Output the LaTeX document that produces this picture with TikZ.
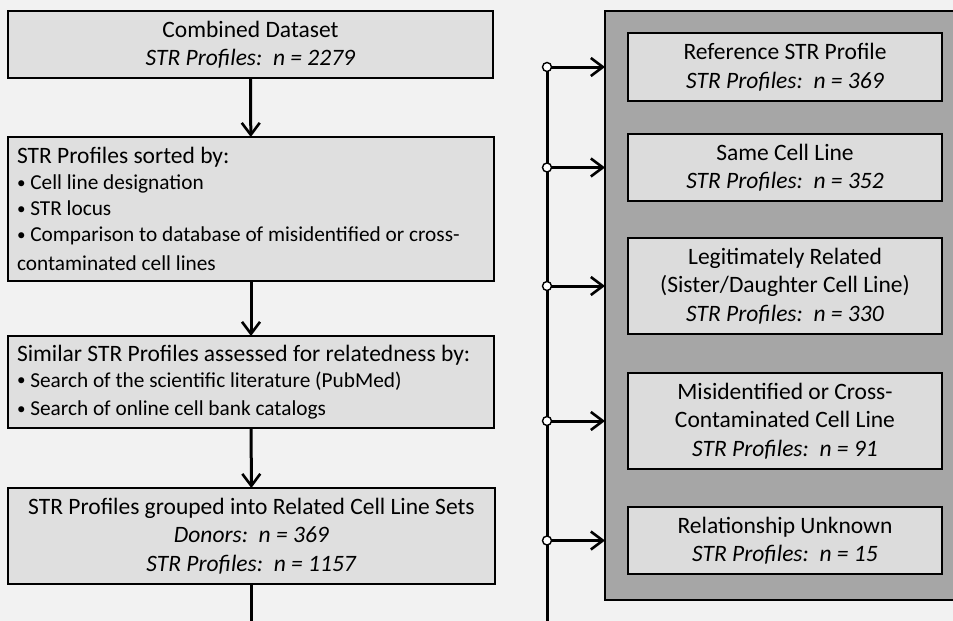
\documentclass[tikz,border=0pt]{standalone}
\usepackage{fontspec}
\setmainfont{Carlito}
\usetikzlibrary{positioning,calc,arrows.meta}
\definecolor{pagegray}{HTML}{F2F2F2}
\definecolor{boxgray}{HTML}{DFDFDF}
\definecolor{panelgray}{HTML}{A6A6A6}
\definecolor{cellgray}{HTML}{DCDCDC}
\newcommand{\listfont}{\fontsize{21.3}{26}\selectfont}
\newcommand{\natspace}{\spaceskip=0pt\relax\xspaceskip=0pt\relax}
\newcommand{\itembullet}{\raisebox{0.15ex}{\scalebox{0.8}{\textbullet}}\ }

\begin{document}
\begin{tikzpicture}[x=1pt,y=-1pt,every node/.style={outer sep=0pt,inner sep=0pt},
		stepbox/.style={draw,line width=1.2pt,fill=boxgray,align=center,
		font=\fontsize{23.5}{28.5}\selectfont},
		listbox/.style={stepbox,align=left,text width=468pt},
		cellbox/.style={stepbox,fill=cellgray,minimum width=314pt},
		panel/.style={draw,line width=1.5pt,fill=panelgray},
		flow/.style={line width=3pt,-{Straight Barb[length=12pt,width=18pt,line width=2.6pt]}},
		busline/.style={line width=3pt},
		junc/.style={circle,draw,line width=1.4pt,fill=white,minimum size=9pt}
		]

		\fill[pagegray] (0,0) rectangle (953,621);
		\useasboundingbox (0,0) rectangle (953,621);
		\clip (0,0) rectangle (953,621);

		% left column
		\node[stepbox,minimum width=485pt,minimum height=67pt] (b1) at (250.5,44.5)
			{Combined Dataset\\ \textit{STR Profiles:\ \ n = 2279}};
		\node[listbox,minimum width=486pt,minimum height=144pt] (b2) at (251,209)
			{\natspace STR Profiles sorted by:\\ \listfont\natspace
			 \itembullet Cell line designation\\
			 \itembullet STR locus\\
			 \itembullet Comparison to database of misidentified or cross-\\
			 contaminated cell lines};
		\node[listbox,minimum width=486pt,minimum height=92pt] (b3) at (251,382)
			{\natspace Similar STR Profiles assessed for relatedness by:\\ \listfont\natspace
			 \itembullet Search of the scientific literature (PubMed)\\
			 \itembullet Search of online cell bank catalogs};
		\node[stepbox,minimum width=487pt,minimum height=96pt] (b4) at (251.5,536)
			{STR Profiles grouped into Related Cell Line Sets\\
			 \textit{Donors:\ \ n = 369}\\
			 \textit{STR Profiles:\ \ n = 1157}};

		\draw[flow] (b1) -- (b2);
		\draw[flow] (b2) -- (b3);
		\draw[flow] (b3) -- (b4);

		% right panel
		\node[panel,minimum width=352pt,minimum height=589pt] (panel) at (781,305.5) {};
		\node[cellbox,minimum height=68pt] (r1) at (785,67)
			{Reference STR Profile\\ \textit{STR Profiles:\ \ n = 369}};
		\node[cellbox,minimum height=67pt] (r2) at (785,167.5)
			{Same Cell Line\\ \textit{STR Profiles:\ \ n = 352}};
		\node[cellbox,minimum height=96pt] (r3) at (785,286)
			{Legitimately Related\\ (Sister/Daughter Cell Line)\\ \textit{STR Profiles:\ \ n = 330}};
		\node[cellbox,minimum height=96pt] (r4) at (785,421)
			{Misidentified or Cross-\\ Contaminated Cell Line\\ \textit{STR Profiles:\ \ n = 91}};
		\node[cellbox,minimum height=67pt] (r5) at (785,540.5)
			{Relationship Unknown\\ \textit{STR Profiles:\ \ n = 15}};

		% bus to the categories
		\coordinate (bus) at (547,0);
		\coordinate (corner) at ($(b4.south)+(0,50)$);
		\draw[busline] (b4.south) -- (corner) -| (bus|-r1);
		\foreach \r in {r1,r2,r3,r4,r5}{
			\draw[flow] (bus|-\r) -- (panel.west|-\r);
			\node[junc] at (bus|-\r) {};
		}
\end{tikzpicture}
\end{document}
